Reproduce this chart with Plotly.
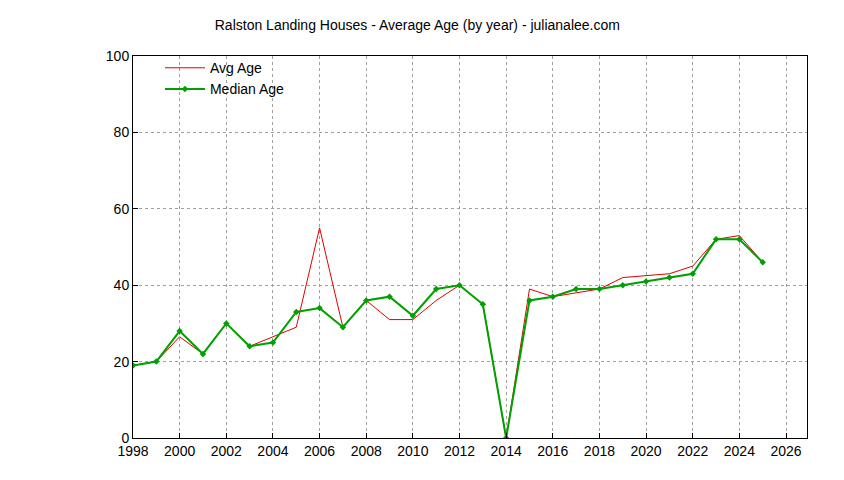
import plotly.graph_objects as go

years = list(range(1998, 2026))
avg_age = [19, 20, 26.5, 22, 30, 24, 26.5, 29, 55, 29, 36, 31, 31, 36, 40, 35, 0,
           39, 37, 38, 39, 42, 42.5, 43, 45, 52, 53, 46]
median_age = [19, 20, 28, 22, 30, 24, 25, 33, 34, 29, 36, 37, 32, 39, 40, 35, 0,
              36, 37, 39, 39, 40, 41, 42, 43, 52, 52, 46]

fig = go.Figure()
fig.add_trace(go.Scatter(x=years, y=avg_age, mode='lines', name='Avg Age',
                         line=dict(color='#e00000', width=1)))
fig.add_trace(go.Scatter(x=years, y=median_age, mode='lines+markers', name='Median Age',
                         line=dict(color='#00a000', width=2),
                         marker=dict(symbol='diamond', size=5, color='#00a000')))

axis = dict(showgrid=True, gridcolor='#a0a0a0', griddash='dot', gridwidth=1,
            showline=True, mirror=True, linecolor='black', linewidth=1,
            ticks='inside', ticklen=5, tickcolor='black', zeroline=False,
            automargin=False, tickfont=dict(size=14, color='black'))

fig.update_layout(
    width=844, height=480, plot_bgcolor='white', paper_bgcolor='white',
    font=dict(family='Liberation Sans, Arial, sans-serif', color='black'),
    title=dict(text='Ralston Landing Houses - Average Age (by year) - julianalee.com',
               x=0.485, xanchor='center', y=0.975, font=dict(size=14)),
    margin=dict(l=125, r=45, t=48, b=50, autoexpand=False),
    xaxis=dict(range=[1998, 2026.9], dtick=2, tick0=1998, **axis),
    yaxis=dict(range=[0, 100], dtick=20, **axis),
    legend=dict(x=0.04, y=1.01, xanchor='left', yanchor='top', bgcolor='rgba(0,0,0,0)',
                font=dict(size=14), tracegroupgap=0, itemwidth=40),
    showlegend=True,
)

fig.write_html("out.html")
